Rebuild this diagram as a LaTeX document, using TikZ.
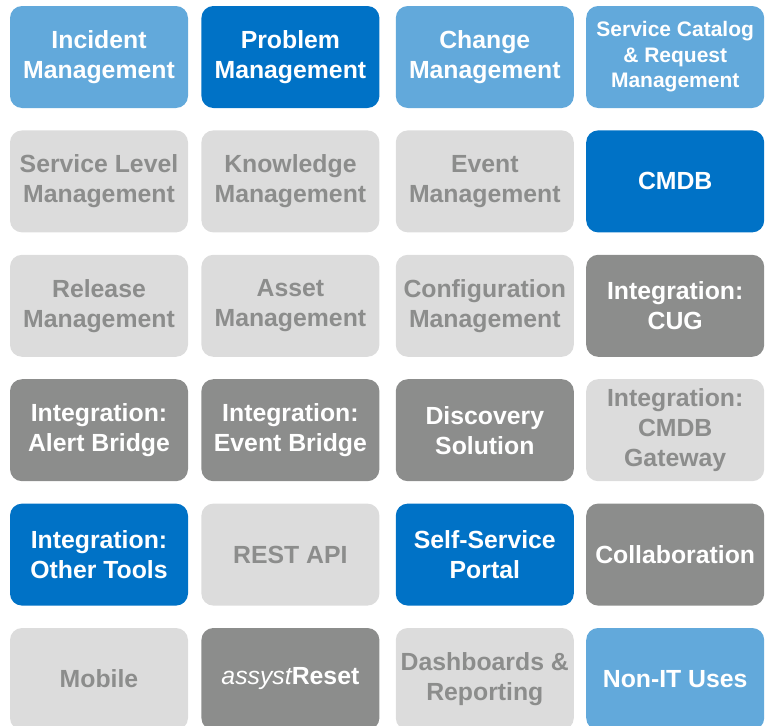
\documentclass[tikz,border=0pt]{standalone}
\usepackage{fontspec}
\setmainfont{Liberation Sans}
\usepackage{tikz}
\usetikzlibrary{positioning}
\definecolor{skyblue}{HTML}{62A9DB}
\definecolor{deepblue}{HTML}{0072C6}
\definecolor{slategrey}{HTML}{8C8D8C}
\definecolor{palegrey}{HTML}{DCDCDC}
\tikzset{
  tile/.style={rectangle, rounded corners=12bp, minimum width=178bp, minimum height=102bp,
               inner sep=0pt, align=center, font=\fontsize{24.8bp}{30bp}\selectfont\bfseries},
  tileblue/.style={fill=skyblue, text=white},
  tiledeep/.style={fill=deepblue, text=white},
  tiledark/.style={fill=slategrey, text=white},
  tilepale/.style={fill=palegrey, text=slategrey},
  small/.style={font=\fontsize{21bp}{25.5bp}\selectfont\bfseries},
}
\begin{document}
\begin{tikzpicture}
  \useasboundingbox (0,0) rectangle (782bp,-726bp);

  % row 1
  \node[tile, tileblue] (incident) at (99bp,-57bp) {Incident\\Management};
  \node[tile, tiledeep] (problem) [right=13bp of incident] {Problem\\Management};
  \node[tile, tileblue] (change) [right=16bp of problem] {Change\\Management};
  \node[tile, tileblue, small] (catalog) [right=12bp of change] {Service Catalog\\\& Request\\Management};

  % row 2
  \node[tile, tilepale] (slm) [below=22bp of incident] {Service Level\\Management};
  \node[tile, tilepale] (knowledge) [below=22bp of problem] {Knowledge\\Management};
  \node[tile, tilepale] (event) [below=22bp of change] {Event\\Management};
  \node[tile, tiledeep] (cmdb) [below=22bp of catalog] {CMDB};

  % row 3
  \node[tile, tilepale] (release) [below=22bp of slm] {Release\\Management};
  \node[tile, tilepale] (asset) [below=22bp of knowledge] {Asset\\Management};
  \node[tile, tilepale] (config) [below=22bp of event] {Configuration\\Management};
  \node[tile, tiledark] (cug) [below=22bp of cmdb] {Integration:\\CUG};

  % row 4
  \node[tile, tiledark] (alertbridge) [below=22bp of release] {Integration:\\Alert Bridge};
  \node[tile, tiledark] (eventbridge) [below=22bp of asset] {Integration:\\Event Bridge};
  \node[tile, tiledark] (discovery) [below=22bp of config] {Discovery\\Solution};
  \node[tile, tilepale] (gateway) [below=22bp of cug] {Integration:\\CMDB\\Gateway};

  % row 5
  \node[tile, tiledeep] (othertools) [below=22bp of alertbridge] {Integration:\\Other Tools};
  \node[tile, tilepale] (restapi) [below=22bp of eventbridge] {REST API};
  \node[tile, tiledeep] (selfservice) [below=22bp of discovery] {Self-Service\\Portal};
  \node[tile, tiledark] (collab) [below=22bp of gateway] {Collaboration};

  % row 6
  \node[tile, tilepale] (mobile) [below=22bp of othertools] {Mobile};
  \node[tile, tiledark] (reset) [below=22bp of restapi] {{\mdseries\itshape assyst}Reset};
  \node[tile, tilepale] (dashboards) [below=22bp of selfservice] {Dashboards \&\\Reporting};
  \node[tile, tileblue] (nonit) [below=22bp of collab] {Non-IT Uses};
\end{tikzpicture}
\end{document}
